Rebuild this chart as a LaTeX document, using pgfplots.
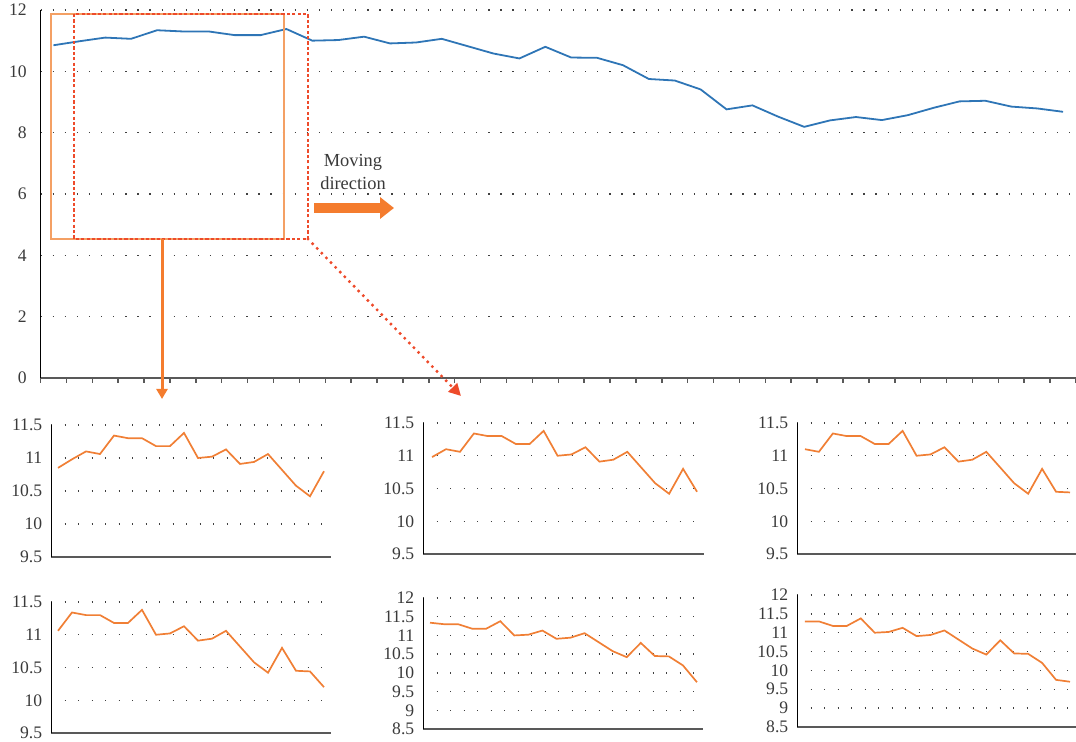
\documentclass[border=0pt]{standalone}
\usepackage{fontspec}
\setmainfont{Liberation Serif}
\usepackage{pgfplots}
\pgfplotsset{compat=1.18}
\usepackage{pgfplotstable}
\usetikzlibrary{arrows.meta}
\definecolor{lblue}{HTML}{2E75B6}
\definecolor{lorange}{HTML}{F07F35}
\definecolor{rorange}{HTML}{F4A064}
\definecolor{aorange}{HTML}{F47C2E}
\definecolor{lred}{HTML}{EE4B2B}
\definecolor{axgray}{HTML}{595959}
\definecolor{txtgray}{HTML}{3A3A3A}

\pgfplotstableread{
x y
1 10.85
2 10.98
3 11.10
4 11.06
5 11.34
6 11.30
7 11.30
8 11.18
9 11.18
10 11.38
11 11.00
12 11.02
13 11.13
14 10.91
15 10.94
16 11.06
17 10.82
18 10.58
19 10.42
20 10.80
21 10.45
22 10.44
23 10.20
24 9.75
25 9.70
26 9.41
27 8.76
28 8.89
29 8.52
30 8.19
31 8.40
32 8.51
33 8.41
34 8.57
35 8.81
36 9.02
37 9.04
38 8.85
39 8.79
40 8.68
}\data

\pgfplotsset{
  base/.style={
    scale only axis, anchor=south west, clip=false,
    axis x line=bottom, axis y line=left,
    x axis line style={-, draw=axgray, line width=0.85pt},
    y axis line style={-, draw=black, line width=0.5pt},
    ymajorgrids,
    grid style={draw=black!75, line width=0.65pt, dash pattern=on 0.65pt off 5.6pt},
    major tick length=0pt,
    ytick style={draw=none},
    yticklabel style={font=\fontsize{8.8}{10}\selectfont, text=txtgray, inner sep=0pt, anchor=east, xshift=-4.2pt},
    /pgf/number format/assume math mode=true,
  },
  inset/.style={base, xtick=\empty,
    grid style={draw=black!75, line width=0.65pt, dash pattern=on 0.65pt off 6.1pt}},
  lowr/.style={ymin=9.5, ymax=11.5, ytick={9.5,10,10.5,11,11.5}},
  wide/.style={ymin=8.5, ymax=12, ytick={8.5,9,9.5,10,10.5,11,11.5,12}},
  oline/.style={draw=lorange, line width=0.85pt, no marks},
}

\begin{document}
\begin{tikzpicture}
\path[use as bounding box] (0,0) rectangle (538pt,-371pt);

% main axis
\begin{axis}[base, at={(20.25pt,-189pt)}, width=517.75pt, height=184pt,
  xmin=0.5, xmax=40.5, ymin=0, ymax=12, ytick={0,2,...,12},
  xtick={0.5,1.5,...,40.5}, xticklabels={},
  major tick length=2.5pt, tick align=outside,
  xtick style={draw=axgray, line width=0.75pt},
  grid style={draw=black!75, line width=0.65pt, dash pattern=on 0.65pt off 5.4pt}]
\addplot[draw=lblue, line width=0.9pt, no marks] table[x=x,y=y]{\data};
\end{axis}

% insets
\begin{axis}[inset, lowr, at={(25.5pt,-278.5pt)}, width=140pt, height=66pt, xmin=0.5, xmax=20.5]
\addplot[oline, restrict x to domain=1:20] table[x=x,y=y]{\data};
\end{axis}
\begin{axis}[inset, lowr, at={(211.5pt,-277pt)}, width=140.5pt, height=65.5pt, xmin=1.35, xmax=21.5]
\addplot[oline, restrict x to domain=2:21] table[x=x,y=y]{\data};
\end{axis}
\begin{axis}[inset, lowr, at={(398.5pt,-277pt)}, width=139.5pt, height=65.5pt, xmin=2.43, xmax=22.43]
\addplot[oline, restrict x to domain=3:22] table[x=x,y=y]{\data};
\end{axis}
\begin{axis}[inset, lowr, at={(25.5pt,-366.5pt)}, width=140pt, height=65.5pt, xmin=3.5, xmax=23.5]
\addplot[oline, restrict x to domain=4:23] table[x=x,y=y]{\data};
\end{axis}
\begin{axis}[inset, wide, at={(211.5pt,-364.5pt)}, width=140pt, height=65.5pt, xmin=4.5, xmax=24.43]
\addplot[oline, restrict x to domain=5:24] table[x=x,y=y]{\data};
\end{axis}
\begin{axis}[inset, wide, at={(398.5pt,-363.5pt)}, width=139.5pt, height=66pt, xmin=5.43, xmax=25.43]
\addplot[oline, restrict x to domain=6:25] table[x=x,y=y]{\data};
\end{axis}

% annotations (pixel coordinates)
\begin{scope}[x=0.5pt, y=-0.5pt]
\draw[rorange, line width=0.8pt] (51,14) rectangle (284,239);
\draw[lred, line width=0.7pt, dash pattern=on 1.6pt off 1.1pt] (74,14) rectangle (308,239);
\draw[aorange, line width=1.5pt, -{Triangle[length=5pt,width=5.5pt]}] (162,239) -- (162,399);
\draw[lred, line width=1.7pt, line cap=round, dash pattern=on 0pt off 3.3pt,
  -{Triangle[length=6pt,width=6pt]}] (308,239) -- (461,396);
\draw[aorange, line width=4.7pt, -{Triangle[length=7pt,width=10.5pt]}] (314,208) -- (394,208);
\node[align=center, font=\fontsize{9.2}{11.5}\selectfont, text=txtgray, anchor=base] at (353,190) {Moving\\direction};
\end{scope}
\end{tikzpicture}
\end{document}
